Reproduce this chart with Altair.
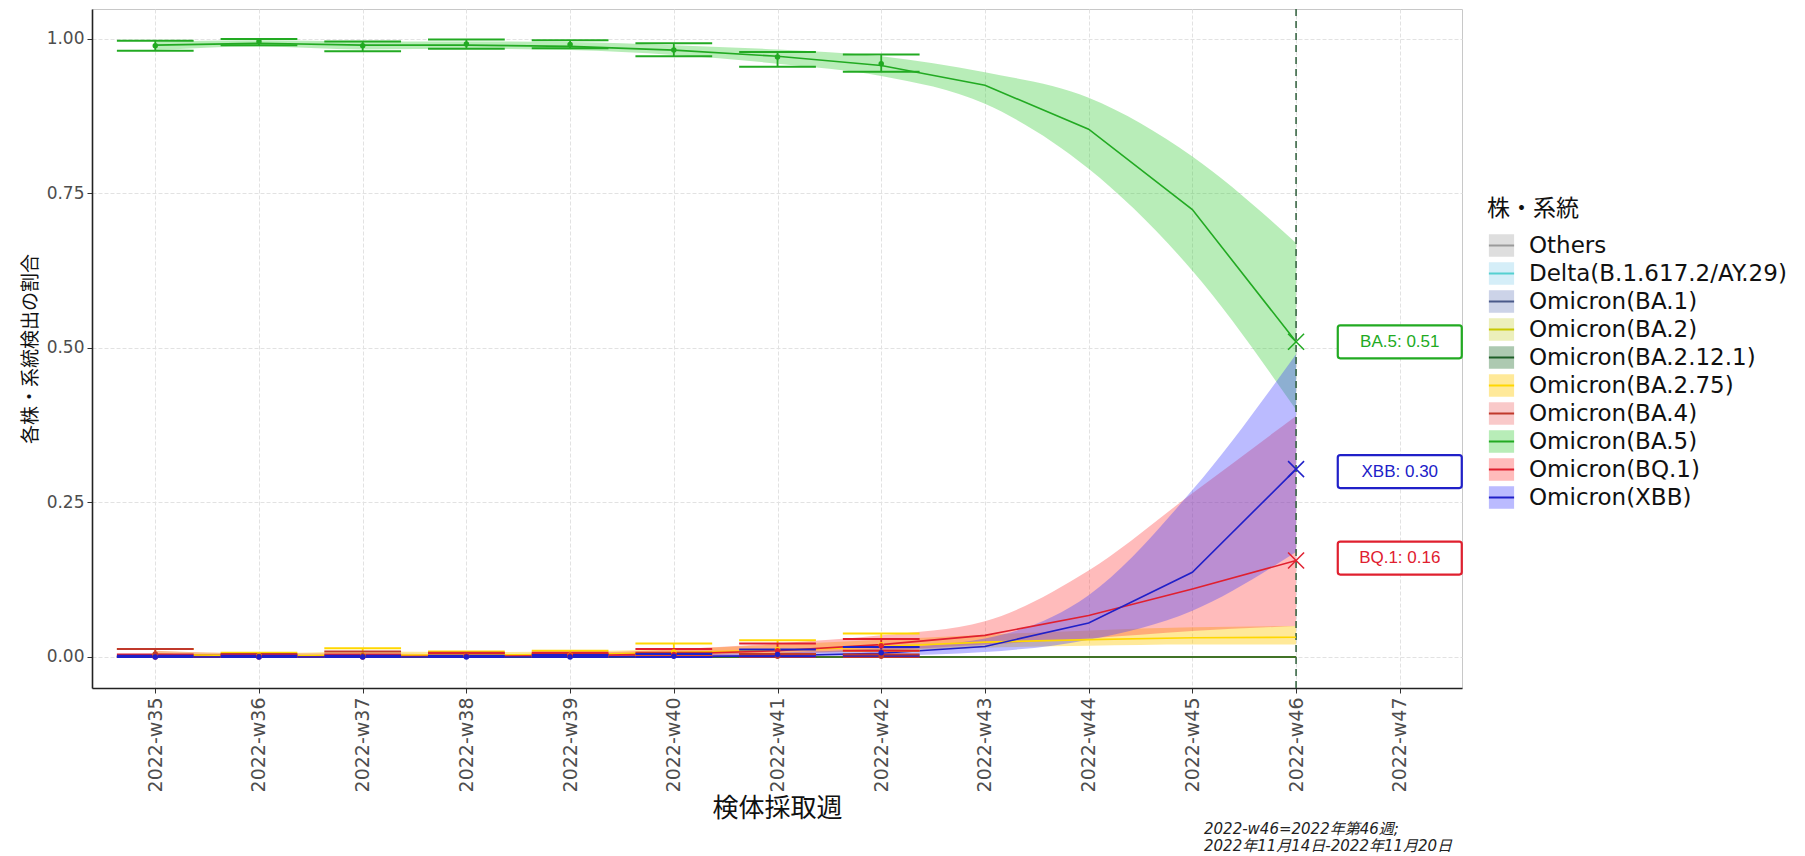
import altair as alt
import pandas as pd

# ---------------- data ----------------
WEEKS = [35, 36, 37, 38, 39, 40, 41, 42, 43, 44, 45, 46]
OBS_WEEKS = [35, 36, 37, 38, 39, 40, 41, 42]
AXIS_WEEKS = [35, 36, 37, 38, 39, 40, 41, 42, 43, 44, 45, 46, 47]

LINEAGES = ["Others", "Delta(B.1.617.2/AY.29)", "Omicron(BA.1)", "Omicron(BA.2)",
            "Omicron(BA.2.12.1)", "Omicron(BA.2.75)", "Omicron(BA.4)", "Omicron(BA.5)",
            "Omicron(BQ.1)", "Omicron(XBB)"]
FILL_COLORS = ["rgba(160,160,160,0.35)", "rgba(135,206,235,0.35)", "rgba(110,130,190,0.35)",
               "rgba(200,210,60,0.35)", "rgba(50,120,60,0.40)", "rgba(255,200,0,0.40)",
               "rgba(240,120,120,0.40)", "rgba(51,204,51,0.35)", "rgba(255,60,60,0.35)",
               "rgba(60,60,255,0.35)"]
LINE_COLORS = ["#9A9A9A", "#55D0D0", "#4A5A8A", "#C8C800", "#1E5E28", "#FFD700",
               "#C0392B", "#22AA22", "#E0202F", "#2020C8"]
# drawing order of the model lines (lines sitting on zero: darker ones last)
LINE_DRAW_ORDER = ["Omicron(BA.4)", "Others", "Delta(B.1.617.2/AY.29)", "Omicron(BA.1)",
                   "Omicron(BA.2)", "Omicron(BA.2.12.1)", "Omicron(BA.2.75)", "Omicron(BA.5)",
                   "Omicron(BQ.1)", "Omicron(XBB)"]

# model estimates (est, lower, upper) for weeks 35..46
ZERO_EST = [0, 0, 0, 0, 0, 0, 0, 0, 0, 0, 0, 0]
ZERO_HI = [0.001, 0.001, 0.001, 0.001, 0.001, 0.001, 0.001, 0.001, 0.001, 0.001, 0.001, 0.001]

BA4_EST = [0.004, 0.002, 0.002, 0.001, 0.001, 0.001, 0.0005, 0, 0, 0, 0, 0]
BA4_LO = [0, 0, 0, 0, 0, 0, 0, 0, 0, 0, 0, 0]
BA4_HI = [0.01, 0.006, 0.006, 0.004, 0.003, 0.003, 0.002, 0.001, 0.001, 0.001, 0.001, 0.001]

BA275_EST = [0.004, 0.002, 0.003, 0.003, 0.004, 0.007, 0.011, 0.017, 0.024, 0.028, 0.031, 0.032]
BA275_LO = [0.001, 0.0005, 0.001, 0.001, 0.001, 0.003, 0.006, 0.010, 0.015, 0.018, 0.020, 0.020]
BA275_HI = [0.010, 0.006, 0.009, 0.008, 0.009, 0.013, 0.020, 0.028, 0.036, 0.043, 0.048, 0.050]

BA5_EST = [0.990, 0.993, 0.990, 0.990, 0.988, 0.982, 0.972, 0.957, 0.925, 0.854, 0.724, 0.510]
BA5_LO = [0.982, 0.988, 0.983, 0.984, 0.982, 0.974, 0.960, 0.940, 0.895, 0.790, 0.625, 0.400]
BA5_HI = [0.996, 0.998, 0.996, 0.996, 0.995, 0.990, 0.983, 0.972, 0.946, 0.905, 0.810, 0.670]

BQ1_EST = [0, 0, 0.0005, 0.001, 0.002, 0.005, 0.010, 0.020, 0.035, 0.067, 0.110, 0.156]
BQ1_LO = [0, 0, 0, 0, 0.0005, 0.002, 0.005, 0.010, 0.020, 0.030, 0.042, 0.050]
BQ1_HI = [0.002, 0.002, 0.003, 0.004, 0.006, 0.012, 0.022, 0.035, 0.058, 0.140, 0.265, 0.390]

XBB_EST = [0, 0, 0, 0, 0, 0.0005, 0.002, 0.006, 0.017, 0.055, 0.137, 0.304]
XBB_LO = [0, 0, 0, 0, 0, 0, 0.0005, 0.002, 0.008, 0.028, 0.075, 0.170]
XBB_HI = [0.001, 0.001, 0.001, 0.001, 0.002, 0.004, 0.007, 0.014, 0.030, 0.100, 0.270, 0.490]

# observed proportions with CI, weeks 35..42
BA5_OBS = [0.989, 0.996, 0.989, 0.992, 0.991, 0.982, 0.971, 0.960]
BA5_OBS_LO = [0.981, 0.990, 0.980, 0.984, 0.985, 0.972, 0.955, 0.947]
BA5_OBS_HI = [0.997, 1.000, 0.996, 0.999, 0.998, 0.993, 0.979, 0.975]
BA275_OBS = [0.004, 0.002, 0.003, 0.002, 0.003, 0.008, 0.012, 0.020]
BA275_OBS_LO = [0.001, 0, 0.0005, 0, 0.001, 0.003, 0.005, 0.010]
BA275_OBS_HI = [0.013, 0.007, 0.014, 0.009, 0.010, 0.022, 0.027, 0.038]
BA4_OBS = [0.005, 0.001, 0.002, 0.002, 0.001, 0.002, 0.001, 0.001]
BA4_OBS_LO = [0, 0, 0, 0, 0, 0, 0, 0]
BA4_OBS_HI = [0.013, 0.005, 0.009, 0.007, 0.005, 0.007, 0.005, 0.004]
BQ1_OBS = [0, 0, 0, 0.001, 0.002, 0.004, 0.010, 0.018]
BQ1_OBS_LO = [0, 0, 0, 0, 0, 0.001, 0.004, 0.010]
BQ1_OBS_HI = [0.004, 0.003, 0.004, 0.006, 0.007, 0.013, 0.022, 0.029]
XBB_OBS = [0, 0, 0, 0, 0, 0.001, 0.004, 0.007]
XBB_OBS_LO = [0, 0, 0, 0, 0, 0, 0.001, 0.002]
XBB_OBS_HI = [0.002, 0.002, 0.002, 0.002, 0.003, 0.005, 0.012, 0.016]

# latest-week labels
LABEL_NAMES = ["BA.5", "XBB", "BQ.1"]
LABEL_LINEAGES = ["Omicron(BA.5)", "Omicron(XBB)", "Omicron(BQ.1)"]
LABEL_VALUES = [0.51, 0.30, 0.16]
LABEL_WEEK = 47
LAST_WEEK = 46

FOOTNOTE = ["2022-w46=2022年第46週;", "2022年11月14日-2022年11月20日"]

# ---------------- tables ----------------
model_series = {
    "Others": (ZERO_EST, ZERO_EST, ZERO_HI),
    "Delta(B.1.617.2/AY.29)": (ZERO_EST, ZERO_EST, ZERO_HI),
    "Omicron(BA.1)": (ZERO_EST, ZERO_EST, ZERO_HI),
    "Omicron(BA.2)": (ZERO_EST, ZERO_EST, ZERO_HI),
    "Omicron(BA.2.12.1)": (ZERO_EST, ZERO_EST, ZERO_HI),
    "Omicron(BA.2.75)": (BA275_EST, BA275_LO, BA275_HI),
    "Omicron(BA.4)": (BA4_EST, BA4_LO, BA4_HI),
    "Omicron(BA.5)": (BA5_EST, BA5_LO, BA5_HI),
    "Omicron(BQ.1)": (BQ1_EST, BQ1_LO, BQ1_HI),
    "Omicron(XBB)": (XBB_EST, XBB_LO, XBB_HI),
}


def model_table(order):
    rows = []
    for name in order:
        est, lo, hi = model_series[name]
        for w, e, l, h in zip(WEEKS, est, lo, hi):
            rows.append({"lineage": name, "week": w, "est": e, "lo": l, "hi": h})
    return pd.DataFrame(rows)


model = model_table(LINEAGES)
model_lines = model_table(LINE_DRAW_ORDER)

obs_series = {
    "Omicron(BA.2.75)": (BA275_OBS, BA275_OBS_LO, BA275_OBS_HI),
    "Omicron(BA.4)": (BA4_OBS, BA4_OBS_LO, BA4_OBS_HI),
    "Omicron(BA.5)": (BA5_OBS, BA5_OBS_LO, BA5_OBS_HI),
    "Omicron(BQ.1)": (BQ1_OBS, BQ1_OBS_LO, BQ1_OBS_HI),
    "Omicron(XBB)": (XBB_OBS, XBB_OBS_LO, XBB_OBS_HI),
}
orows = []
for name in LINEAGES:
    if name not in obs_series:
        continue
    pt, lo, hi = obs_series[name]
    for w, p, l, h in zip(OBS_WEEKS, pt, lo, hi):
        orows.append({"lineage": name, "week": w, "pt": p, "lo": l, "hi": h})
obs = pd.DataFrame(orows)

labels = pd.DataFrame({
    "lineage": LABEL_LINEAGES,
    "name": LABEL_NAMES,
    "value": LABEL_VALUES,
    "week": [LABEL_WEEK] * len(LABEL_NAMES),
})
labels["text"] = [f"{n}: {v:.2f}" for n, v in zip(LABEL_NAMES, LABEL_VALUES)]

last = model[(model["week"] == LAST_WEEK) & (model["lineage"].isin(LABEL_LINEAGES))]
vline = pd.DataFrame({"week": [LAST_WEEK]})

# ---------------- scales / axes ----------------
FONT = "DejaVu Sans, Noto Sans CJK JP, sans-serif"
LATIN = "DejaVu Sans"
xs = alt.Scale(domain=[34.39, 47.6], nice=False, zero=False)
ys = alt.Scale(domain=[-0.0502, 1.0485], nice=False, zero=False)
xax = alt.Axis(values=AXIS_WEEKS, labelExpr="'2022-w' + datum.value", labelAngle=270,
               labelAlign="right", labelBaseline="middle", title="検体採取週",
               labelFontSize=19, titleFontSize=26, labelPadding=4, titlePadding=4,
               labelFont=LATIN)
yax = alt.Axis(values=[0, 0.25, 0.5, 0.75, 1.0], format=".2f", title="各株・系統検出の割合",
               labelFontSize=17, titleFontSize=19, labelPadding=3, titlePadding=6,
               labelFont=LATIN)

color_enc = alt.Color("lineage:N", scale=alt.Scale(domain=LINEAGES, range=LINE_COLORS), legend=None)

# legend key: filled box with a horizontal line through its middle (the dash keeps only
# the first segment of the outline visible)
SYM = "M-1.4,0H1.4V-1.25H-1.4V1.25H1.4V0"
leg = alt.Legend(orient="none", legendX=1395, legendY=189, title="株・系統",
                 titleFontSize=23, titleFontWeight="normal", labelFontSize=23,
                 labelFont=LATIN, titleFont=FONT, clipHeight=27,
                 labelLimit=600, symbolSize=324, rowPadding=1, labelOffset=16,
                 symbolOffset=3, titlePadding=11, titleColor="#111", labelColor="#111",
                 symbolType=SYM, symbolStrokeWidth=2, symbolDash=[25.2, 600],
                 symbolOpacity=1)

X = alt.X("week:Q", scale=xs, axis=xax)

area = alt.Chart(model).mark_area(interpolate="monotone").encode(
    x=X,
    y=alt.Y("lo:Q", scale=ys, axis=yax),
    y2="hi:Q",
    fill=alt.Fill("lineage:N", scale=alt.Scale(domain=LINEAGES, range=FILL_COLORS), legend=leg),
)

line = alt.Chart(model_lines).mark_line(strokeWidth=1.6).encode(
    x=X,
    y=alt.Y("est:Q", scale=ys, axis=yax),
    stroke=alt.Stroke("lineage:N", scale=alt.Scale(domain=LINEAGES, range=LINE_COLORS), legend=leg),
)

dashed = alt.Chart(vline).mark_rule(strokeDash=[7, 5], color="#2E5E3A", strokeWidth=1.5).encode(
    x=alt.X("week:Q", scale=xs, axis=xax)
)

err_v = alt.Chart(obs).mark_rule(strokeWidth=1.8).encode(
    x=X, y=alt.Y("lo:Q", scale=ys, axis=yax), y2="hi:Q", color=color_enc
)
cap_base = alt.Chart(obs).transform_calculate(
    xl="datum.week - 0.37", xr="datum.week + 0.37"
)
cap_lo = cap_base.mark_rule(strokeWidth=2).encode(
    x=alt.X("xl:Q", scale=xs, axis=xax), x2="xr:Q",
    y=alt.Y("lo:Q", scale=ys, axis=yax), color=color_enc
)
cap_hi = cap_base.mark_rule(strokeWidth=2).encode(
    x=alt.X("xl:Q", scale=xs, axis=xax), x2="xr:Q",
    y=alt.Y("hi:Q", scale=ys, axis=yax), color=color_enc
)
pts = alt.Chart(obs).mark_circle(size=30, opacity=1).encode(
    x=X, y=alt.Y("pt:Q", scale=ys, axis=yax), color=color_enc
)

xmarks = alt.Chart(last).mark_point(shape="M-1,-1L1,1M-1,1L1,-1", size=256, filled=False,
                                    strokeWidth=1.5, opacity=1).encode(
    x=X, y=alt.Y("est:Q", scale=ys, axis=yax), color=color_enc
)

BOX = ("M-0.96,-0.266H0.96A0.04,0.04 0 0 1 1,-0.226V0.226A0.04,0.04 0 0 1 0.96,0.266"
       "H-0.96A0.04,0.04 0 0 1 -1,0.226V-0.226A0.04,0.04 0 0 1 -0.96,-0.266Z")
boxes = alt.Chart(labels).mark_point(shape=BOX, size=15376, filled=False,
                                     fill="white", fillOpacity=1, strokeWidth=2.2, opacity=1).encode(
    x=X, y=alt.Y("value:Q", scale=ys, axis=yax), color=color_enc
)
texts = alt.Chart(labels).mark_text(font="Liberation Sans, Arial, sans-serif", fontSize=17).encode(
    x=X, y=alt.Y("value:Q", scale=ys, axis=yax), text="text:N", color=color_enc
)

chart = alt.layer(area, dashed, line, err_v, cap_lo, cap_hi, pts, xmarks, boxes, texts).properties(
    width=1370,
    height=679,
    autosize=alt.AutoSizeParams(type="none"),
    padding={"left": 84, "top": 1, "right": 335, "bottom": 168},
    title=alt.Title(FOOTNOTE, orient="bottom", anchor="end", frame="group", align="left", dx=-258,
                    fontSize=15, fontStyle="italic", fontWeight="normal", color="#222222",
                    font=FONT, lineHeight=17, offset=0),
).configure(
    font=FONT,
).configure_view(
    stroke="#C8C8C8", strokeWidth=1,
).configure_axis(
    titleFont=FONT, labelColor="#4D4D4D", titleColor="#111111",
    titleFontWeight="normal", domainColor="#222222", domainWidth=1.6,
    tickColor="#333333", tickSize=5, gridColor="#E2E2E2", gridDash=[4, 2], gridWidth=1,
)

chart.save("out.html", embed_options={"renderer": "svg", "actions": False})
